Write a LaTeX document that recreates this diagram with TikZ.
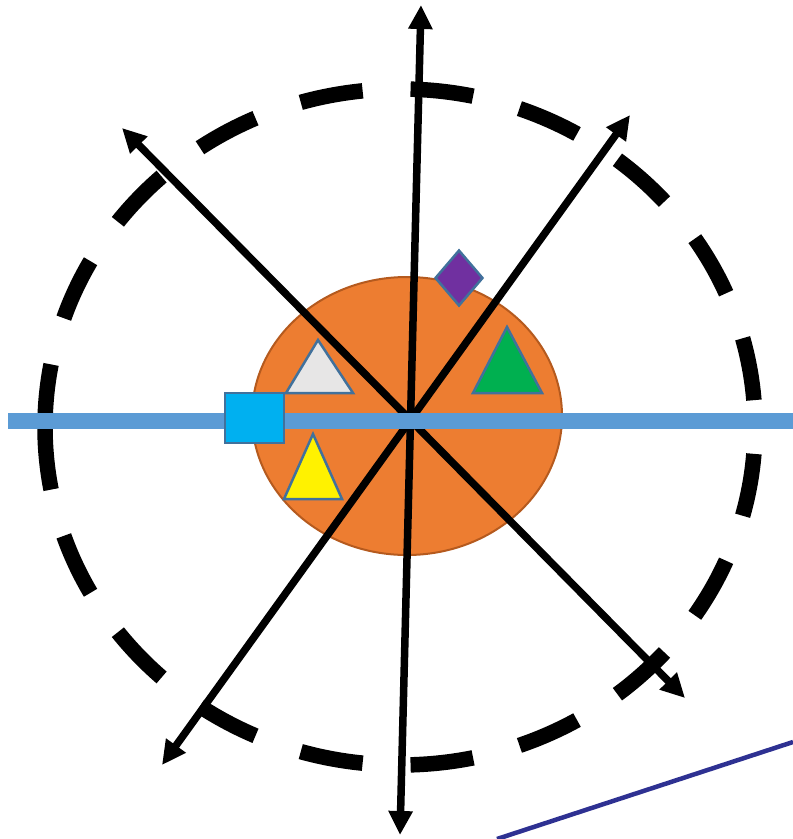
\documentclass[tikz,border=0pt]{standalone}
\usepackage{xcolor}
\usepackage{tikz}
\usetikzlibrary{arrows.meta, shapes.geometric}

\definecolor{orangefill}{HTML}{ED7D31}
\definecolor{orangeline}{HTML}{B55A1E}
\definecolor{axisblue}{HTML}{5B9BD5}
\definecolor{shapeline}{HTML}{41719C}
\definecolor{squareblue}{HTML}{00B0F0}
\definecolor{greenfill}{HTML}{00B050}
\definecolor{purplefill}{HTML}{7030A0}
\definecolor{grayfill}{HTML}{E7E6E6}
\definecolor{navyline}{HTML}{2E3192}

\begin{document}
\begin{tikzpicture}[
    x=1pt, y=-1pt,
    ring/.style={line width=15.5pt, dash pattern=on 63pt off 48pt},
    dblarrow/.style={{Triangle[length=24pt,width=23pt]}-{Triangle[length=24pt,width=23pt]}, line width=7.5pt},
    marker/.style={draw=shapeline, line width=2.5pt, line join=miter},
]
\useasboundingbox (0,0) rectangle (793,839);

\coordinate (c) at (410,420);
\coordinate (n) at (421,5);
\coordinate (s) at (400,835);
\coordinate (nw) at (122,128);
\coordinate (se) at (685,698);
\coordinate (ne) at (630,115);
\coordinate (sw) at (162,765);
\coordinate (ringw) at (45,427);
\coordinate (axisw) at (8,421);
\coordinate (axise) at (793,421);
\coordinate (navya) at (497,839);
\coordinate (navyb) at (793,742);

\node[ellipse, draw=orangeline, fill=orangefill, line width=2pt,
      minimum width=310pt, minimum height=278pt, inner sep=0pt] (blob) at (407,416) {};

\draw[ring] (ringw) arc[start angle=180, end angle=0, x radius=355, y radius=338];
\draw[ring] (ringw) arc[start angle=180, end angle=360, x radius=355, y radius=338];

\draw[dblarrow] (n) -- (s);
\draw[dblarrow] (nw) -- (se);
\draw[dblarrow] (ne) -- (sw);

\draw[axisblue, line width=16pt] (axisw) -- (axise);

\node[diamond, marker, fill=purplefill, minimum width=48pt, minimum height=56pt,
      inner sep=0pt] (gem) at (459,278) {};
\draw[marker, fill=grayfill] (318,340) -- (353,393) -- (286,393) -- cycle;
\draw[marker, fill=greenfill] (507,327) -- (542,393) -- (473,393) -- cycle;
\draw[marker, fill=yellow] (313,434) -- (342,499) -- (284,499) -- cycle;
\node[rectangle, marker, fill=squareblue, minimum width=59pt, minimum height=50pt,
      inner sep=0pt] (box) at (254.5,418) {};

\draw[navyline, line width=4.5pt] (navya) -- (navyb);
\end{tikzpicture}
\end{document}
